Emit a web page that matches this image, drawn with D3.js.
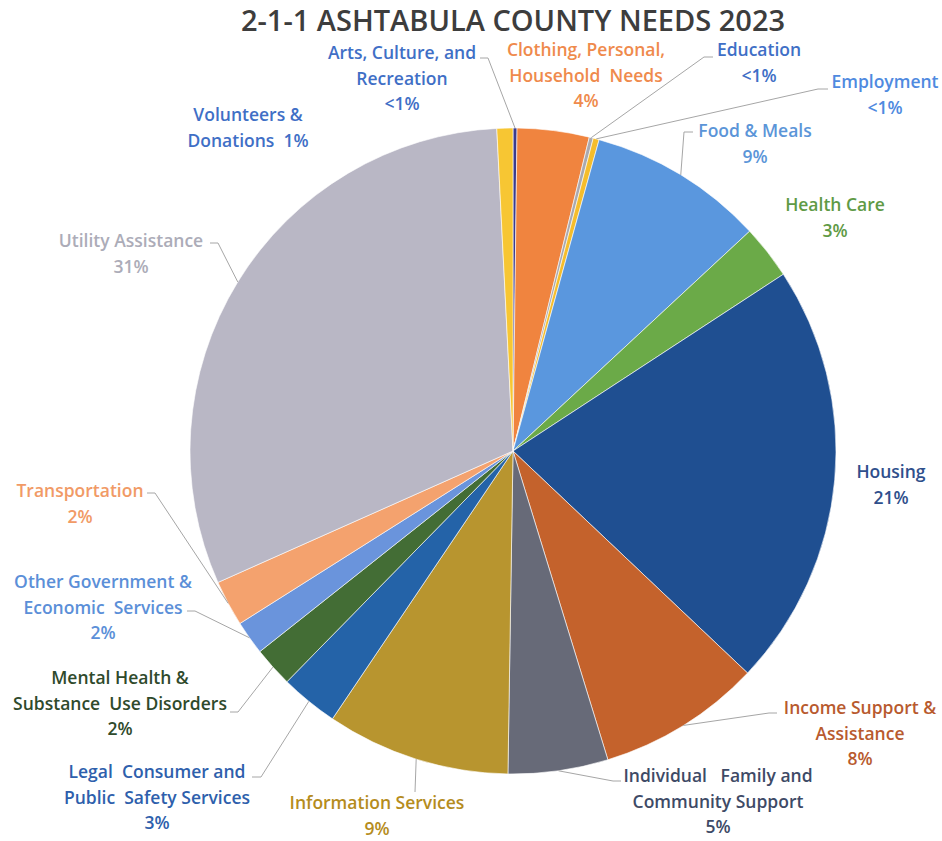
<!DOCTYPE html>
<html>
<head>
<meta charset="utf-8">
<script src="https://cdn.jsdelivr.net/npm/d3@7"></script>
<style>
  html, body { margin: 0; padding: 0; background: #fff; }
  svg { display: block; }
</style>
</head>
<body>
<svg id="chart" width="942" height="841"></svg>
<script>
// ---- data ----
const categories = [
  "Arts, Culture, and Recreation",
  "Clothing, Personal, Household Needs",
  "Education",
  "Employment",
  "Food & Meals",
  "Health Care",
  "Housing",
  "Income Support & Assistance",
  "Individual Family and Community Support",
  "Information Services",
  "Legal Consumer and Public Safety Services",
  "Mental Health & Substance Use Disorders",
  "Other Government & Economic Services",
  "Transportation",
  "Utility Assistance",
  "Volunteers & Donations"
];
const values = [0.2, 3.6, 0.2, 0.3, 8.8, 2.7, 21.3, 8.2, 5.0, 9.2, 2.9, 2.0, 1.7, 2.3, 30.9, 0.8];
const labelLines = [
  ["Arts, Culture, and", "Recreation", "<1%"],
  ["Clothing, Personal,", "Household  Needs", "4%"],
  ["Education", "<1%"],
  ["Employment", "<1%"],
  ["Food & Meals", "9%"],
  ["Health Care", "3%"],
  ["Housing", "21%"],
  ["Income Support &", "Assistance", "8%"],
  ["Individual   Family and", "Community Support", "5%"],
  ["Information Services", "9%"],
  ["Legal  Consumer and", "Public  Safety Services", "3%"],
  ["Mental Health &", "Substance  Use Disorders", "2%"],
  ["Other Government &", "Economic  Services", "2%"],
  ["Transportation", "2%"],
  ["Utility Assistance", "31%"],
  ["Volunteers &", "Donations  1%"]
];
const title = "2-1-1 ASHTABULA COUNTY NEEDS 2023";

// ---- styles ----
const sliceColors = ["#3b3c8c", "#f0843f", "#a9a9b0", "#f5bd2c", "#5a97de", "#6baa48", "#1f4f91",
  "#c4622c", "#676a78", "#b8952f", "#2463a8", "#436d35", "#6a94dc", "#f4a26e", "#b9b7c5", "#f7c633"];
const textColors = ["#3f6fc6", "#ef8a4c", "#3f6fc6", "#4f8ae0", "#5b95d8", "#5f9a45", "#2f4f8c",
  "#b85a2e", "#3e4a66", "#b58c1d", "#2e5fac", "#2f4a2c", "#5b8fd8", "#f19a66", "#acacb8", "#3f6fc6"];

// ---- layout (label centres / leader anchors) ----
const labelLayout = [
  { x: 402, y: 59, lead: [480, 58, 488] },
  { x: 586, y: 56 },
  { x: 759, y: 56, lead: [713, 57, 704] },
  { x: 885, y: 88, lead: [828, 89, 818] },
  { x: 755, y: 137, lead: [693, 132, 684] },
  { x: 835, y: 211 },
  { x: 891, y: 478 },
  { x: 860, y: 714, lead: [777, 713, 769] },
  { x: 718, y: 782, lead: [621, 781, 613] },
  { x: 377, y: 809, lead: [415, 792, 415] },
  { x: 157, y: 778, lead: [252, 777, 261] },
  { x: 120, y: 684, lead: [230, 712, 238] },
  { x: 103, y: 588, lead: [187, 611, 195] },
  { x: 80, y: 497, lead: [147, 493, 155] },
  { x: 131, y: 247, lead: [210, 243, 218] },
  { x: 248, y: 121 }
];

const svg = d3.select("#chart");
const cx = 513, cy = 451, r = 323;

svg.append("text")
  .attr("x", 513).attr("y", 31)
  .attr("text-anchor", "middle")
  .attr("font-family", "'Open Sans', 'Noto Sans', sans-serif")
  .attr("font-weight", 600)
  .attr("font-size", 29)
  .attr("fill", "#3d3d3d")
  .text(title);

const data = categories.map((c, i) => ({ name: c, value: values[i], i }));
const pie = d3.pie().sort(null).value(d => d.value).startAngle(0).endAngle(2 * Math.PI);
const arcs = pie(data);
const arc = d3.arc().innerRadius(0).outerRadius(r);
const edgeArc = d3.arc().innerRadius(r).outerRadius(r);

const g = svg.append("g").attr("transform", `translate(${cx},${cy})`);
g.selectAll("path.slice")
  .data(arcs)
  .join("path")
  .attr("class", "slice")
  .attr("d", arc)
  .attr("fill", d => sliceColors[d.data.i])
  .attr("stroke", "#ffffff")
  .attr("stroke-width", 0.6);

// leader lines
const leaders = svg.append("g");
arcs.forEach(d => {
  const L = labelLayout[d.data.i].lead;
  if (!L) return;
  const e = edgeArc.centroid(d);
  const pts = [[L[0], L[1]], [L[2], L[1]], [cx + e[0], cy + e[1]]];
  leaders.append("path")
    .attr("d", d3.line()(pts))
    .attr("fill", "none")
    .attr("stroke", "#a6a6a6")
    .attr("stroke-width", 1);
});

// labels
const labels = svg.append("g")
  .attr("font-family", "'Open Sans', 'Noto Sans', sans-serif")
  .attr("font-weight", 600)
  .attr("font-size", 17.5)
  .attr("text-anchor", "middle");
data.forEach(d => {
  const p = labelLayout[d.i];
  const t = labels.append("text")
    .attr("x", p.x).attr("y", p.y)
    .attr("fill", textColors[d.i])
    .attr("xml:space", "preserve")
    .style("white-space", "pre");
  labelLines[d.i].forEach((line, k) => {
    t.append("tspan").attr("x", p.x).attr("y", p.y + k * 25.5).text(line);
  });
});
</script>
</body>
</html>
